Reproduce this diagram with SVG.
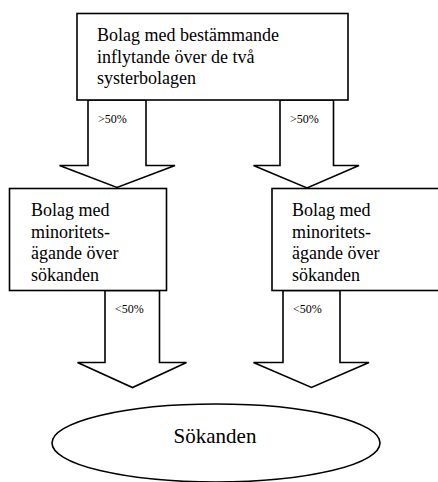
<svg xmlns="http://www.w3.org/2000/svg" width="438" height="482" viewBox="0 0 438 482">
<style>
.box{fill:#fff;stroke:#000;stroke-width:1.6}
.arr{fill:#fff;stroke:#000;stroke-width:1.6;stroke-linejoin:miter}
.t{font-family:"Liberation Serif","Times New Roman",serif;font-size:18px;fill:#000}
.pct{font-family:"Liberation Serif","Times New Roman",serif;font-size:12px;fill:#000}
.big{font-family:"Liberation Serif","Times New Roman",serif;font-size:21px;fill:#000}
</style>
<rect width="438" height="482" fill="#fff"/>
<g id="connectors">
<polygon class="arr" points="88,100 88,165.5 59.5,165.5 117,187.5 175,165.5 146,165.5 146,100"/>
<polygon class="arr" points="280,100 280,165.5 253.5,165.5 307,188 359,165.5 333.5,165.5 333.5,100"/>
<polygon class="arr" points="105,290.5 105,362.5 77.5,362.5 132.5,387.5 186.5,362.5 159.5,362.5 159.5,290.5"/>
<polygon class="arr" points="283,290.5 283,362.5 253.5,362.5 311.5,387.5 369,362.5 340,362.5 340,290.5"/>
<text class="pct" x="98" y="123">&gt;50%</text>
<text class="pct" x="290" y="123">&gt;50%</text>
<text class="pct" x="115" y="313">&lt;50%</text>
<text class="pct" x="293" y="313">&lt;50%</text>
</g>
<g id="top">
<rect class="box" x="77" y="13.5" width="271" height="86.5"/>
<text class="t" x="97" y="41">Bolag med bestämmande</text>
<text class="t" x="97" y="62.5">inflytande över de två</text>
<text class="t" x="97" y="84">systerbolagen</text>
</g>
<g id="left">
<rect class="box" x="9.5" y="188.5" width="157" height="102"/>
<text class="t" x="31" y="216">Bolag med</text>
<text class="t" x="31" y="237.5">minoritets-</text>
<text class="t" x="31" y="259">ägande över</text>
<text class="t" x="31" y="280.5">sökanden</text>
</g>
<g id="right">
<rect class="box" x="272" y="188.5" width="170" height="102"/>
<text class="t" x="292" y="216">Bolag med</text>
<text class="t" x="292" y="237.5">minoritets-</text>
<text class="t" x="292" y="259">ägande över</text>
<text class="t" x="292" y="280.5">sökanden</text>
</g>
<g id="sokanden">
<ellipse class="box" cx="216" cy="443" rx="164" ry="39"/>
<text class="big" x="215" y="443" text-anchor="middle">Sökanden</text>
</g>
</svg>
